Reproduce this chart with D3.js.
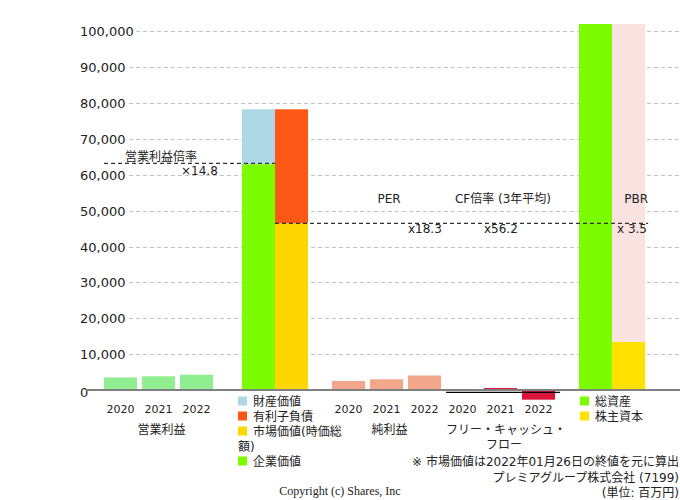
<!DOCTYPE html>
<meta charset="utf-8">
<style>
  body { margin: 0; background: #fff; }
  svg { font-family: "DejaVu Sans", "Noto Sans CJK JP", sans-serif; }
  .tick-label { font-size: 13px; fill: #222; }
  .small { font-size: 12px; fill: #222; }
  .year { font-size: 11px; fill: #222; }
</style>
<body>
<script src="https://cdnjs.cloudflare.com/ajax/libs/d3/7.8.5/d3.min.js"></script>
<script>
// chart values (million yen)
var years = ["2020", "2021", "2022"];
var operatingProfit = [3490, 3820, 4270];
var netIncome = [2510, 2985, 4045];
var freeCashFlow = [200, 560, -2700];

var enterpriseValue = 63000;   // 企業価値
var assetValue = 15300;        // 財産価値
var marketCap = 46500;         // 市場価値
var interestDebt = 31800;      // 有利子負債
var totalAssets = 102100;      // 総資産 (runs off the top)
var equity = 13390;            // 株主資本

var opMultipleText = "×14.8";
var perText = "x18.3";
var cfText = "x56.2";
var pbrText = "x 3.5";

var yTicks = [10000, 20000, 30000, 40000, 50000, 60000, 70000, 80000, 90000, 100000];

var width = 680, height = 500;

var svg = d3.select("body").append("svg")
    .attr("width", width)
    .attr("height", height);

// y scale: 0 sits at 390px, top of plot at 24px
var y = d3.scaleLinear()
    .domain([0, 102090])
    .range([390, 24]);

// slot scale: one slot = one yearly bar step
var x = d3.scaleLinear().domain([0, 1]).range([104, 142]);
var barW = x(0.87) - x(0);

var fmt = d3.format(",");

// gridlines
svg.append("g").selectAll("line")
  .data(yTicks)
  .enter().append("line")
    .attr("x1", 80).attr("x2", 680)
    .attr("y1", d => Math.round(y(d)) + 0.5)
    .attr("y2", d => Math.round(y(d)) + 0.5)
    .attr("stroke", "#c4c4c4")
    .attr("stroke-dasharray", "4,3");

// tick labels with white halo so the grid stops at the text
svg.append("g").selectAll("text")
  .data([0].concat(yTicks))
  .enter().append("text")
    .attr("class", "tick-label")
    .attr("x", 80)
    .attr("y", d => y(d) + (d === 0 ? 7 : 5))
    .attr("stroke", "#fff")
    .attr("stroke-width", 6)
    .attr("paint-order", "stroke")
    .text(d => fmt(d));

var bars = svg.append("g");

function bar(slot, v0, v1, color) {
  var lo = Math.max(Math.min(v0, v1), y.domain()[0] - 5000);
  var hi = Math.min(Math.max(v0, v1), y.domain()[1]);
  bars.append("rect")
    .attr("x", x(slot))
    .attr("width", barW)
    .attr("y", y(hi))
    .attr("height", Math.max(0, y(lo) - y(hi)))
    .attr("fill", color);
}

// 営業利益
operatingProfit.forEach((v, i) => bar(i, 0, v, "#90ee90"));

// enterprise value / market value columns
var evSlot = 3.63;
bar(evSlot, 0, enterpriseValue, "#7cfc00");
bar(evSlot, enterpriseValue, enterpriseValue + assetValue, "#add8e6");
bar(evSlot + 0.87, 0, marketCap, "#ffd700");
bar(evSlot + 0.87, marketCap, marketCap + interestDebt, "#fd5815");

// 純利益
netIncome.forEach((v, i) => bar(6 + i, 0, v, "#f2a68a"));

// フリー・キャッシュ・フロー
freeCashFlow.forEach((v, i) => bar(9 + i, 0, v, "#dc143c"));

// PBR columns
var pbrSlot = 12.5;
bar(pbrSlot, 0, totalAssets, "#7cfc00");
bar(pbrSlot + 0.87, equity, totalAssets, "#f9e2e0");
bar(pbrSlot + 0.87, 0, equity, "#ffe100");

// zero line
svg.append("line")
  .attr("x1", 86).attr("x2", 680)
  .attr("y1", y(0)).attr("y2", y(0))
  .attr("stroke", "#808080")
  .attr("stroke-width", 2);

// 3-year average FCF line
var fcfAvg = d3.mean(freeCashFlow);
svg.append("line")
  .attr("x1", x(9)).attr("x2", x(11) + barW + 5)
  .attr("y1", y(fcfAvg)).attr("y2", y(fcfAvg))
  .attr("stroke", "#000")
  .attr("stroke-width", 1.2);

// dashed multiple lines
var opLineV = operatingProfit[2] * 14.8;
svg.append("line")
  .attr("x1", x(0)).attr("x2", x(evSlot + 0.87))
  .attr("y1", y(opLineV)).attr("y2", y(opLineV))
  .attr("stroke", "#333").attr("stroke-width", 1.2)
  .attr("stroke-dasharray", "4,3");
svg.append("line")
  .attr("x1", x(evSlot + 0.87)).attr("x2", x(pbrSlot + 0.87) + barW + 3)
  .attr("y1", y(marketCap)).attr("y2", y(marketCap))
  .attr("stroke", "#333").attr("stroke-width", 1.2)
  .attr("stroke-dasharray", "4,3");

// in-plot labels
function label(txt, px, py, anchor) {
  svg.append("text").attr("class", "small")
    .attr("x", px).attr("y", py)
    .attr("text-anchor", anchor || "middle")
    .text(txt);
}
label("営業利益倍率", 161, 161);
label(opMultipleText, 181, 175, "start");
label("PER", 389, 203);
label(perText, 408, 233, "start");
label("CF倍率 (3年平均)", 503, 203);
label(cfText, 484, 233, "start");
label("PBR", 648, 203, "end");
label(pbrText, 617, 233, "start");

// year labels
[0, 6, 9].forEach(function (start) {
  years.forEach(function (yr, i) {
    svg.append("text").attr("class", "year")
      .attr("x", x(start + i) + barW / 2)
      .attr("y", 413)
      .attr("text-anchor", "middle")
      .text(yr);
  });
});

// group labels
label("営業利益", x(1) + barW / 2 + 3, 434);
label("純利益", x(7) + barW / 2 + 3, 434);
label("フリー・キャッシュ・", 506, 434);
label("フロー", 504, 449);

// legends
var legend1 = [
  {name: "財産価値", color: "#add8e6", cy: 401},
  {name: "有利子負債", color: "#fd5815", cy: 416},
  {name: "市場価値(時価総", color: "#ffd700", cy: 431},
  {name: "企業価値", color: "#7cfc00", cy: 461}
];
var legend2 = [
  {name: "総資産", color: "#7cfc00", cy: 401},
  {name: "株主資本", color: "#ffe100", cy: 416}
];
function drawLegend(items, lx) {
  var g = svg.append("g");
  g.selectAll("rect").data(items).enter().append("rect")
    .attr("x", lx).attr("y", d => d.cy - 4.5)
    .attr("width", 9).attr("height", 9)
    .attr("fill", d => d.color);
  g.selectAll("text").data(items).enter().append("text")
    .attr("class", "small")
    .attr("x", lx + 15).attr("y", d => d.cy + 5)
    .text(d => d.name);
}
drawLegend(legend1, 238);
drawLegend(legend2, 580);
label("額)", 238, 451, "start");

// footnotes
label("※ 市場価値は2022年01月26日の終値を元に算出", 679, 466, "end");
label("プレミアグループ株式会社 (7199)", 679, 482, "end");
label("(単位: 百万円)", 679, 497, "end");

svg.append("text")
  .attr("x", 340).attr("y", 495)
  .attr("text-anchor", "middle")
  .style("font-family", "'Liberation Serif', 'DejaVu Serif', serif")
  .style("font-size", "12px")
  .attr("fill", "#222")
  .text("Copyright (c) Shares, Inc");
</script>
</body>
